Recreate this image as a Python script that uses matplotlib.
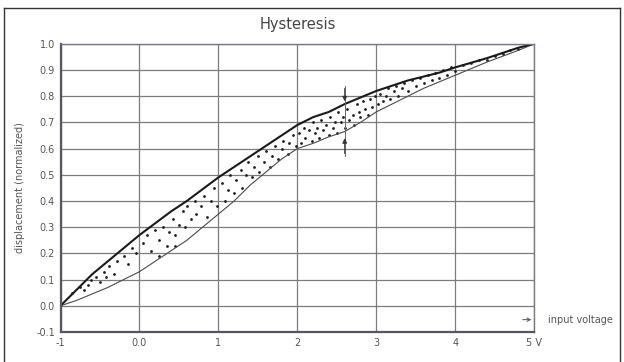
import numpy as np
import matplotlib
matplotlib.use("Agg")
import matplotlib.pyplot as plt
from matplotlib.lines import Line2D

# curves #
x_curve = [-1.0, -0.8, -0.6, -0.4, -0.2, 0.0, 0.2, 0.4, 0.6, 0.8, 1.0, 1.2, 1.4, 1.6, 1.8,
           2.0, 2.2, 2.4, 2.6, 2.8, 3.0, 3.2, 3.4, 3.6, 3.8, 4.0, 4.4, 4.8, 5.0]
y_upper = [0.0, 0.06, 0.12, 0.17, 0.22, 0.27, 0.315, 0.36, 0.40, 0.445, 0.49, 0.53, 0.57, 0.61, 0.65,
           0.69, 0.72, 0.74, 0.77, 0.795, 0.82, 0.84, 0.86, 0.875, 0.89, 0.91, 0.945, 0.985, 1.0]
y_lower = [0.0, 0.02, 0.045, 0.07, 0.10, 0.13, 0.17, 0.21, 0.25, 0.30, 0.35, 0.40, 0.46, 0.51, 0.56,
           0.60, 0.62, 0.645, 0.665, 0.70, 0.74, 0.77, 0.80, 0.83, 0.855, 0.88, 0.93, 0.975, 1.0]

# scattered samples inside the loop #
dots_x = [-0.85, -0.75, -0.7, -0.65, -0.62, -0.55, -0.5, -0.45, -0.42, -0.38, -0.32, -0.28, -0.2, -0.15,
          -0.1, -0.05, 0.05,
          0.1, 0.15, 0.2, 0.25, 0.25, 0.3, 0.35, 0.38, 0.42, 0.45, 0.45, 0.5, 0.55, 0.58, 0.6, 0.65,
          0.7, 0.72, 0.78, 0.82, 0.85, 0.9, 0.95, 0.98,
          1.05, 1.08, 1.12, 1.15, 1.2, 1.22, 1.28, 1.3, 1.35, 1.38, 1.42, 1.45, 1.5, 1.52, 1.58, 1.6,
          1.65, 1.68, 1.72, 1.75, 1.8, 1.82, 1.88, 1.9, 1.95, 1.98,
          2.02, 2.05, 2.08, 2.1, 2.15, 2.18, 2.2, 2.22, 2.25, 2.28, 2.3, 2.33, 2.36, 2.4, 2.42, 2.45,
          2.48, 2.5, 2.52, 2.55, 2.58, 2.6, 2.63, 2.66, 2.7, 2.72, 2.75, 2.78, 2.8, 2.83, 2.86, 2.9,
          2.92, 2.95, 2.98,
          3.02, 3.05, 3.08, 3.12, 3.15, 3.18, 3.22, 3.25, 3.28, 3.32, 3.35, 3.4, 3.45, 3.5, 3.55, 3.6,
          3.65, 3.7, 3.75, 3.8, 3.85, 3.9, 3.95, 4.0,
          4.1, 4.2, 4.3, 4.4, 4.5, 4.6, 4.7, 4.8]
dots_y = [0.05, 0.07, 0.06, 0.08, 0.10, 0.11, 0.09, 0.13, 0.11, 0.15, 0.12, 0.17, 0.19, 0.16,
          0.22, 0.20, 0.24,
          0.27, 0.21, 0.29, 0.25, 0.19, 0.30, 0.23, 0.28, 0.33, 0.27, 0.23, 0.31, 0.36, 0.30, 0.38, 0.33,
          0.40, 0.35, 0.38, 0.42, 0.34, 0.40, 0.45, 0.38,
          0.47, 0.40, 0.44, 0.50, 0.43, 0.48, 0.52, 0.45, 0.50, 0.55, 0.49, 0.53, 0.57, 0.51, 0.55, 0.59,
          0.53, 0.57, 0.61, 0.56, 0.60, 0.63, 0.58, 0.62, 0.65, 0.61,
          0.66, 0.62, 0.68, 0.64, 0.67, 0.63, 0.70, 0.66, 0.68, 0.64, 0.71, 0.67, 0.69, 0.65, 0.72, 0.68,
          0.70, 0.66, 0.74, 0.70, 0.72, 0.68, 0.75, 0.71, 0.73, 0.69, 0.77, 0.74, 0.72, 0.78, 0.75, 0.73,
          0.79, 0.76, 0.80,
          0.77, 0.81, 0.78, 0.80, 0.83, 0.79, 0.82, 0.84, 0.80, 0.83, 0.85, 0.82, 0.86, 0.84, 0.87, 0.85,
          0.88, 0.86, 0.89, 0.87, 0.90, 0.88, 0.91, 0.895,
          0.92, 0.925, 0.94, 0.94, 0.955, 0.96, 0.975, 0.98]

# hysteresis marker (vertical bar with two arrows) #
mark_x = 2.6
mark_top = [0.84, 0.77]
mark_bot = [0.57, 0.65]

xticks = [-1, 0, 1, 2, 3, 4, 5]
xlabels = ["-1", "0.0", "1", "2", "3", "4", "5 V"]
yticks = [-0.1, 0.0, 0.1, 0.2, 0.3, 0.4, 0.5, 0.6, 0.7, 0.8, 0.9, 1.0]

fig = plt.figure(figsize=(6.24, 3.62), dpi=100)
ax = fig.add_axes([0.097, 0.083, 0.759, 0.796])

ax.set_xlim(-1, 5)
ax.set_ylim(-0.1, 1.0)
ax.set_xticks(xticks)
ax.set_xticklabels(xlabels)
ax.set_yticks(yticks)
ax.set_yticklabels(["%.1f" % v for v in yticks])
ax.grid(True, color="#7c7c7c", linewidth=0.9)
ax.set_axisbelow(True)
ax.tick_params(length=0, labelsize=7, colors="#555555", pad=4)

for s in ["left", "bottom"]:
    ax.spines[s].set_color("#555566")
    ax.spines[s].set_linewidth(1.6)
for s in ["top", "right"]:
    ax.spines[s].set_color("#777788")
    ax.spines[s].set_linewidth(1.0)

# Plot #
ax.plot(x_curve, y_lower, color="#4a4a4a", linewidth=0.8)
ax.plot(x_curve, y_upper, color="#1a1a1a", linewidth=1.5)
ax.scatter(dots_x, dots_y, s=4, color="#1e1e1e", linewidths=0)

# arrows #
ax.plot([mark_x, mark_x], [mark_top[0], mark_bot[0]], color="#666666", linewidth=0.7)
ax.annotate("", xy=(mark_x, mark_top[1]), xytext=(mark_x, mark_top[0]),
            arrowprops=dict(arrowstyle="-|>", color="#333333", lw=0.7, mutation_scale=7))
ax.annotate("", xy=(mark_x, mark_bot[1]), xytext=(mark_x, mark_bot[0]),
            arrowprops=dict(arrowstyle="-|>", color="#333333", lw=0.7, mutation_scale=7))

# labels #
ax.set_title("Hysteresis", fontsize=10.5, color="#444444", pad=11)
ax.set_ylabel("displacement (normalized)", fontsize=7, color="#555555", labelpad=8)
ax.annotate("", xy=(5.0, -0.053), xytext=(4.82, -0.053), xycoords="data",
            arrowprops=dict(arrowstyle="->", color="#555555", lw=0.7, mutation_scale=6),
            annotation_clip=False)
ax.text(5.17, -0.053, "input voltage", fontsize=7, color="#555555", va="center", ha="left",
        clip_on=False)

# outer frame #
fig.add_artist(Line2D([0.007, 0.007], [0.0, 0.978], color="#333333", linewidth=1.0))
fig.add_artist(Line2D([0.007, 0.994], [0.978, 0.978], color="#333333", linewidth=1.0))
fig.add_artist(Line2D([0.994, 0.994], [0.0, 0.978], color="#333333", linewidth=1.0))

fig.savefig("out.png", dpi=100)
